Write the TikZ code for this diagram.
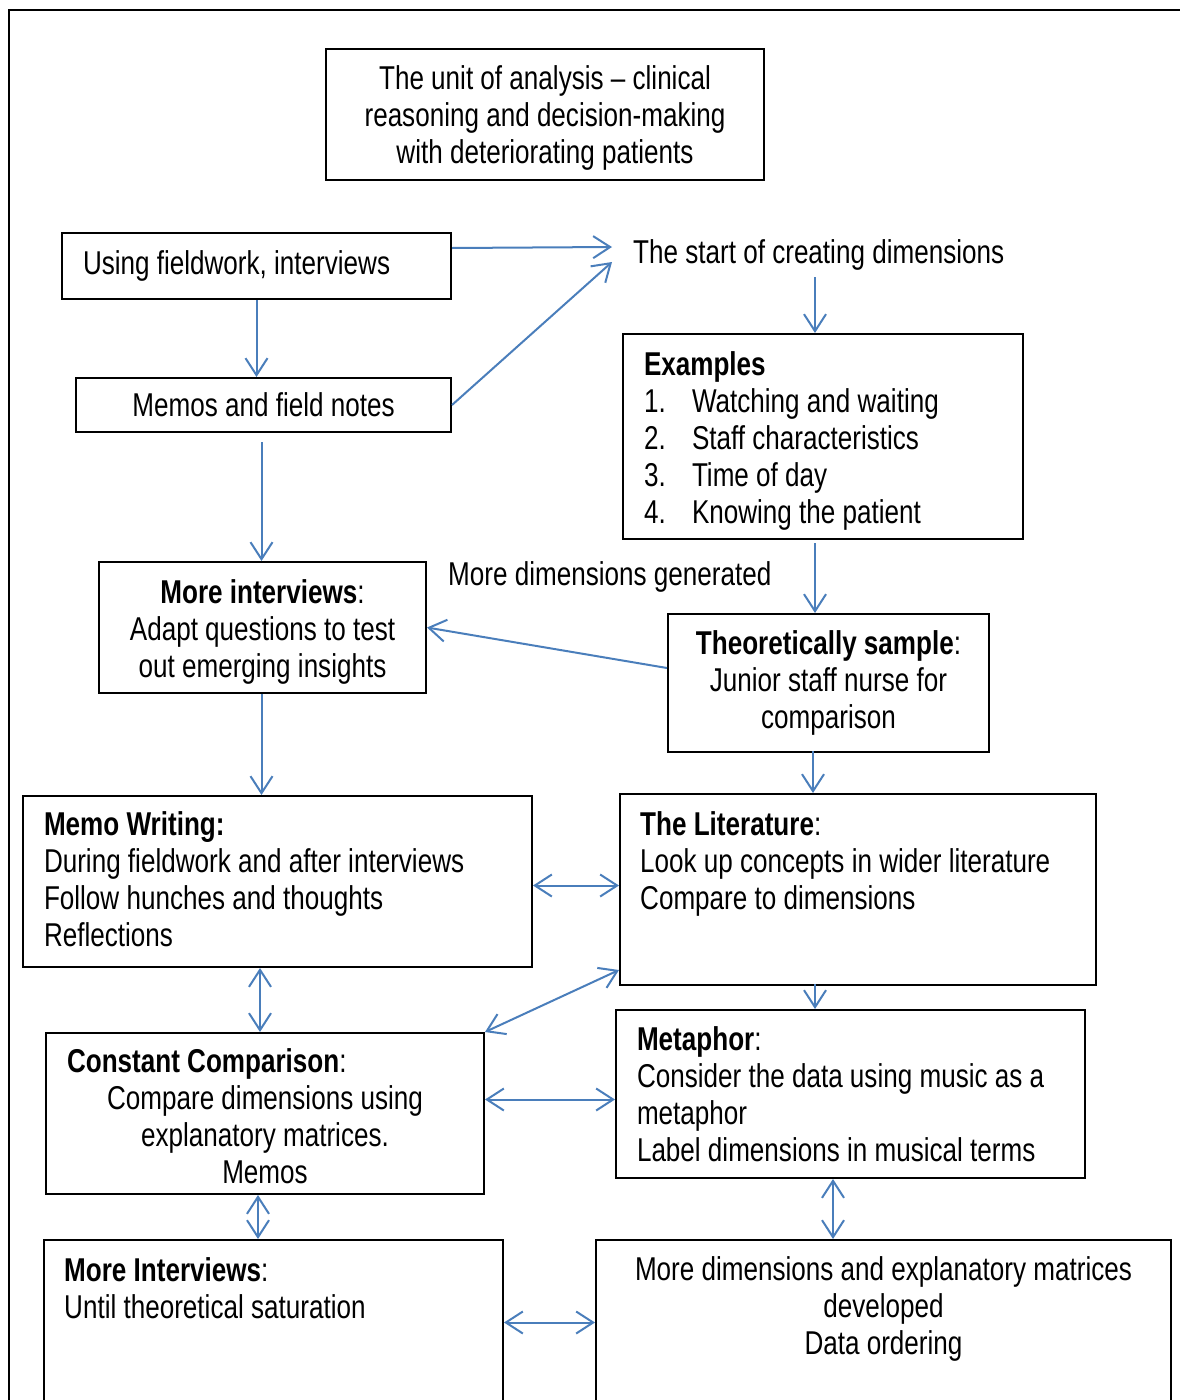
\documentclass[tikz,border=0pt]{standalone}
\usepackage{fontspec}
\setmainfont{Liberation Sans}[FakeStretch=0.79]
\usetikzlibrary{arrows.meta,calc}
\definecolor{arrblue}{RGB}{74,126,187}
\newcommand\upstrut[1]{\rule{0pt}{#1}}
\newcommand\dnstrut[1]{\rule[-#1]{0pt}{0pt}}
\begin{document}
\begin{tikzpicture}[x=1pt,y=-1pt,
  every node/.style={font=\fontsize{33}{37}\selectfont,
    execute at begin node={\spaceskip=0pt\xspaceskip=0pt\relax}},
  box/.style={draw=black, line width=2pt, anchor=north west, inner ysep=0pt},
  lbox/.style={box, inner xsep=21pt, align=left},
  cbox/.style={box, inner xsep=0pt, align=center},
  plain/.style={inner sep=0pt},
  tip/.tip={Straight Barb[length=17pt,width=22pt]},
  arr/.style={draw=arrblue, line width=2pt, -tip},
  darr/.style={draw=arrblue, line width=2pt, tip-tip}]
\useasboundingbox (0,0) rectangle (1179,1400);
% outer frame
\draw[line width=2.5pt] (9,1410) -- (9,10) -- (1190,10);

% boxes
\node[cbox, minimum width=438pt, minimum height=131pt] (unit) at (325,48)
  {\upstrut{30pt}The unit of analysis -- clinical\\reasoning and decision-making\\with deteriorating patients};
\node[lbox, text width=347pt, minimum height=66pt] (b2) at (61,232)
  {Using fieldwork, interviews};
\node[cbox, minimum width=375pt, minimum height=54pt] (b3) at (75,377)
  {Memos and field notes};
\node[plain, anchor=base west] (start) at (633,263) {The start of creating dimensions};
\node[lbox, text width=358pt, minimum height=205pt] (ex) at (622,333)
  {\upstrut{32pt}\textbf{Examples}\\
   \makebox[48pt][l]{1.}Watching and waiting\\
   \makebox[48pt][l]{2.}Staff characteristics\\
   \makebox[48pt][l]{3.}Time of day\\
   \makebox[48pt][l]{4.}Knowing the patient};
\node[plain, anchor=base west] (moredim) at (448,585) {More dimensions generated};
\node[cbox, minimum width=327pt, minimum height=131pt] (mi) at (98,561)
  {\upstrut{32pt}\textbf{More interviews}:\\Adapt questions to test\\out emerging insights};
\node[cbox, minimum width=321pt, minimum height=138pt] (th) at (667,613)
  {\textbf{Theoretically sample}:\\Junior staff nurse for\\comparison};
\node[lbox, text width=467pt, minimum height=171pt] (mw) at (22,795)
  {\textbf{Memo Writing:}\\During fieldwork and after interviews\\Follow hunches and thoughts\\Reflections\dnstrut{4pt}};
\node[box, minimum width=476pt, minimum height=191pt] (lit) at (619,793) {};
\node[plain, anchor=north west, align=left] (litT) at ([xshift=21pt,yshift=-18pt]lit.north west)
  {\textbf{The Literature}:\\Look up concepts in wider literature\\Compare to dimensions};
\node[cbox, minimum width=438pt, minimum height=161pt] (cc) at (45,1032)
  {\upstrut{30pt}\makebox[396pt][l]{\textbf{Constant Comparison}:}\\Compare dimensions using\\explanatory matrices.\\Memos};
\node[lbox, text width=427pt, minimum height=168pt] (mp) at (615,1009)
  {\textbf{Metaphor}:\\Consider the data using music as a\\metaphor\\Label dimensions in musical terms};
\node[box, minimum width=459pt, minimum height=171pt] (mi2) at (43,1239) {};
\node[plain, anchor=north west, align=left] (mi2T) at ([xshift=21pt,yshift=-18pt]mi2.north west)
  {\textbf{More Interviews}:\\Until theoretical saturation};
\node[box, minimum width=575pt, minimum height=171pt] (md) at (595,1239) {};
\node[plain, anchor=north, align=center] (mdT) at ([yshift=-17pt]md.north)
  {More dimensions and explanatory matrices\\developed\\Data ordering};

% free ends
\coordinate (c1) at (612,247);
\coordinate (c2) at (612,262);
\coordinate (a4) at (815,277);
\coordinate (a6) at (815,543);
\coordinate (a9) at (813,751);
\coordinate (a11) at (260,968);
\coordinate (a12) at (815,984);
\coordinate (a15) at (258,1195);
\coordinate (a16) at (833,1179);

% connectors
\draw[arr] ([yshift=18pt]b2.east) -- (c1);
\draw[arr] (b3.east) -- (c2);
\draw[arr] (b2.south) -- (b2.south |- b3.north);
\draw[arr] (a4) -- (a4 |- ex.north);
\draw[arr] ([xshift=-2pt,yshift=-9pt]b3.south) -- ([xshift=-2pt]b3.south |- mi.north);
\draw[arr] (a6) -- (a6 |- th.north);
\draw[arr] ([yshift=15pt]th.west) -- (mi.east);
\draw[arr] ([xshift=-1pt]mi.south) -- ([xshift=-1pt]mi.south |- mw.north);
\draw[arr] (a9) -- (a9 |- lit.north);
\draw[darr] ([yshift=-4pt]mw.east) -- ([yshift=-4pt]mw.east -| lit.west);
\draw[darr] (a11) -- (a11 |- cc.north);
\draw[arr] (a12) -- (a12 |- mp.north);
\draw[darr] (cc.north east) -- ([yshift=16pt]lit.south west);
\draw[darr] ([yshift=14pt]cc.east) -- ([yshift=14pt]cc.east -| mp.west);
\draw[darr] (a15) -- (a15 |- mi2.north);
\draw[darr] (a16) -- (a16 |- md.north);
\draw[darr] ([yshift=3pt]mi2.east) -- ([yshift=3pt]mi2.east -| md.west);
\end{tikzpicture}
\end{document}
